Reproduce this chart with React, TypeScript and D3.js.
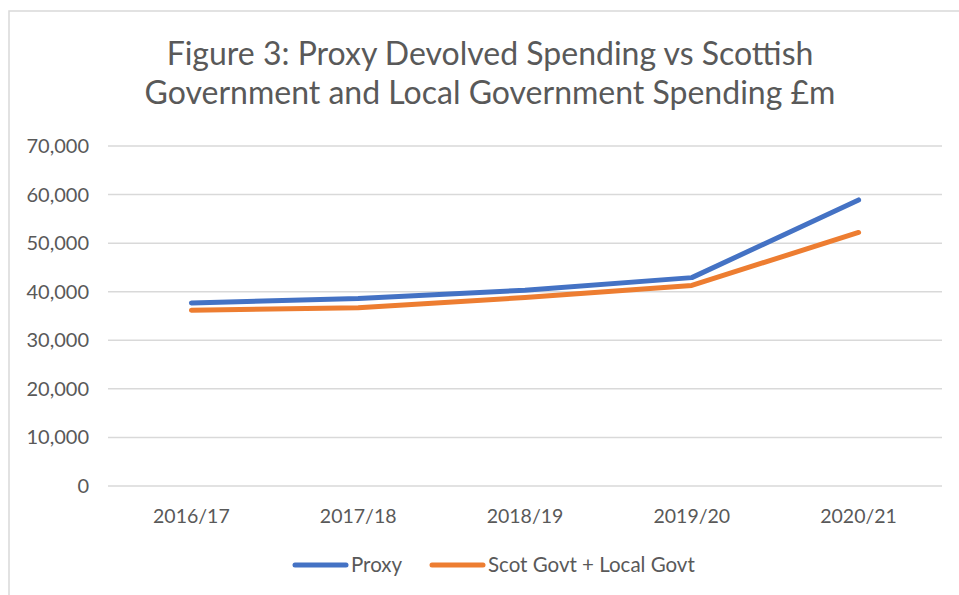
import React from "react";
import * as d3 from "d3";

const categories = ["2016/17", "2017/18", "2018/19", "2019/20", "2020/21"];
const proxyValues = [37700, 38600, 40300, 42900, 58900];
const scotValues = [36200, 36700, 38800, 41300, 52200];
const yTicks = [0, 10000, 20000, 30000, 40000, 50000, 60000, 70000];
const seriesNames = ["Proxy", "Scot Govt + Local Govt"];
const titleLines = [
  "Figure 3: Proxy Devolved Spending vs Scottish",
  "Government and Local Government Spending £m",
];

const W = 959;
const H = 595;
const FONT = "Lato, 'Open Sans', sans-serif";
const TEXT = "#595959";
const GRID = "#D9D9D9";
const COLORS = ["#4472C4", "#ED7D31"];

export default function App() {
  const plotLeft = 108;
  const plotRight = 942;
  const plotTop = 146;
  const plotBottom = 486;

  const x = d3.scaleBand<string>().domain(categories).range([plotLeft, plotRight]).padding(0);
  const y = d3.scaleLinear().domain([0, 70000]).range([plotBottom, plotTop]);
  const fmt = d3.format(",");
  const line = d3
    .line<number>()
    .x((_, i) => (x(categories[i]) as number) + x.bandwidth() / 2)
    .y((d) => y(d));

  const series = [proxyValues, scotValues];

  const legendItems = [
    { x1: 295, name: seriesNames[0] },
    { x1: 432, name: seriesNames[1] },
  ];

  return (
    <div style={{ position: "fixed", left: 0, top: 0, width: W, height: H, background: "#fff" }}>
      <svg width={W} height={H} style={{ display: "block", overflow: "hidden" }} fontFamily={FONT}>
        <rect x={0} y={0} width={W} height={H} fill="#fff" />
        <rect x={9} y={11} width={1200} height={1200} fill="#fff" stroke={GRID} strokeWidth={1.5} />
        {titleLines.map((t, i) => (
          <text key={i} x={490} y={65 + i * 39} textAnchor="middle" fontSize={32} fill={TEXT}>
            {t}
          </text>
        ))}
        {yTicks.map((t) => (
          <g key={t}>
            <line x1={plotLeft} x2={plotRight} y1={y(t)} y2={y(t)} stroke={GRID} strokeWidth={1.5} />
            <text x={89} y={y(t)} dy="0.35em" textAnchor="end" fontSize={20} fill={TEXT}>
              {fmt(t)}
            </text>
          </g>
        ))}
        {categories.map((c) => (
          <text
            key={c}
            x={(x(c) as number) + x.bandwidth() / 2}
            y={523}
            textAnchor="middle"
            fontSize={19.5}
            fill={TEXT}
          >
            {c}
          </text>
        ))}
        {series.map((s, i) => (
          <path
            key={i}
            d={line(s) as string}
            fill="none"
            stroke={COLORS[i]}
            strokeWidth={5}
            strokeLinecap="round"
            strokeLinejoin="round"
          />
        ))}
        {legendItems.map((item, i) => (
          <g key={i}>
            <line
              x1={item.x1}
              x2={item.x1 + 51}
              y1={565}
              y2={565}
              stroke={COLORS[i]}
              strokeWidth={5}
              strokeLinecap="round"
            />
            <text x={item.x1 + 56} y={565} dy="0.35em" fontSize={20.5} fill={TEXT}>
              {item.name}
            </text>
          </g>
        ))}
      </svg>
    </div>
  );
}
